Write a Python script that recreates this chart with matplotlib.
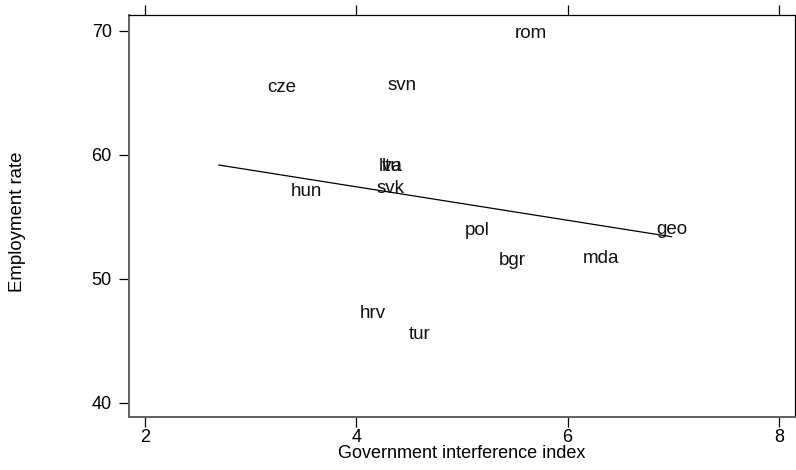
import matplotlib
matplotlib.use("Agg")
import matplotlib.pyplot as plt

# country codes and values
countries = ["rom", "cze", "svn", "ltu", "lva", "svk", "hun",
             "pol", "bgr", "mda", "geo", "hrv", "tur"]
gov_index = [5.65, 3.29, 4.43, 4.33, 4.33, 4.32, 3.53,
             5.14, 5.48, 6.32, 6.99, 4.16, 4.60]
employment = [69.8, 65.45, 65.6, 59.06, 59.06, 57.26, 57.04,
              53.9, 51.53, 51.69, 54.03, 47.18, 45.56]

# fitted line endpoints
fit_x = [2.70, 6.98]
fit_y = [59.19, 53.41]

x_ticks = [2, 4, 6, 8]
y_ticks = [40, 50, 60, 70]

plt.rcParams['font.family'] = ['Liberation Sans', 'DejaVu Sans']

fig = plt.figure(figsize=(7.96, 4.70), dpi=100)
ax = fig.add_axes([129 / 796, 53 / 470, 666 / 796, 402 / 470])

ax.plot(fit_x, fit_y, color='black', linewidth=0.9)

for name, x, y in zip(countries, gov_index, employment):
    ax.text(x, y, name, ha='center', va='center', fontsize=13.5, color='#111111')

ax.set_xlim(1.849, 8.151)
ax.set_ylim(38.87, 71.29)
ax.set_xticks(x_ticks)
ax.set_yticks(y_ticks)
ax.tick_params(axis='both', labelsize=13, length=7, width=0.9, direction='out')
ax.tick_params(axis='x', top=True, pad=2)
ax.tick_params(axis='y', pad=5.5)

for side in ['left', 'bottom']:
    ax.spines[side].set_color('#606060')
    ax.spines[side].set_linewidth(1.4)
for side in ['top', 'right']:
    ax.spines[side].set_color('black')
    ax.spines[side].set_linewidth(0.9)

ax.set_xlabel('Government interference index', fontsize=13, va='center')
ax.xaxis.set_label_coords(0.5, -0.092)
ax.set_ylabel('Employment rate', fontsize=13.4, va='center')
ax.yaxis.set_label_coords(-0.168, 0.485)

fig.savefig('out.png', dpi=100)
